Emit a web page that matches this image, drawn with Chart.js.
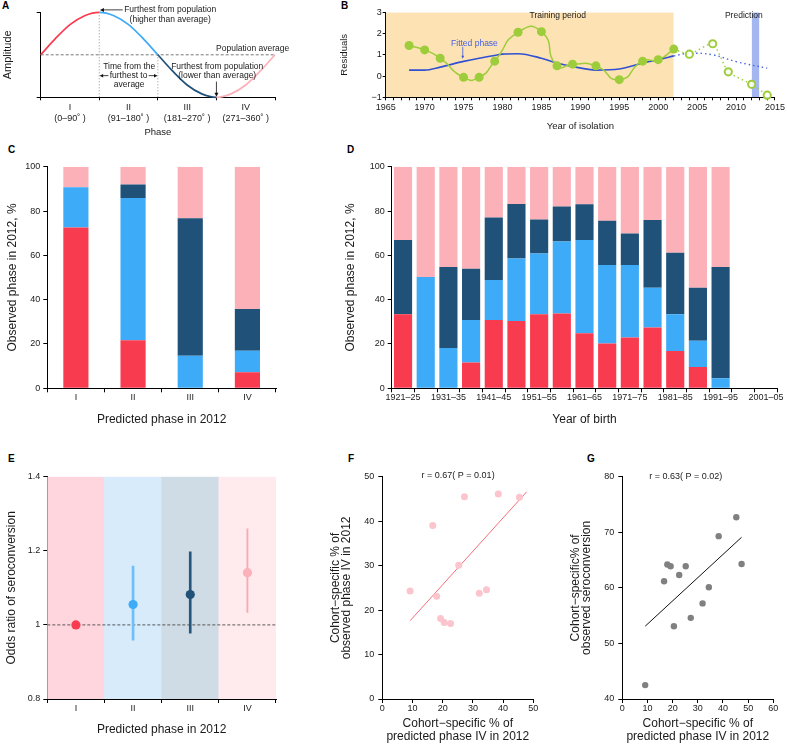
<!DOCTYPE html>
<html><head><meta charset="utf-8">
<script src="https://cdn.jsdelivr.net/npm/chart.js@4.4.0/dist/chart.umd.min.js"></script>
<style>
body{margin:0;background:#fff;width:787px;height:744px;position:relative;overflow:hidden;font-family:'Liberation Sans',Arial,Helvetica,sans-serif}
.p{position:absolute}
.lbl{position:absolute;font-weight:bold;font-size:10px;line-height:10px;color:#000}
</style></head><body>
<div class="lbl" style="left:2px;top:1px">A</div>
<div class="lbl" style="left:341px;top:1px">B</div>
<div class="lbl" style="left:8px;top:145px">C</div>
<div class="lbl" style="left:347px;top:145px">D</div>
<div class="lbl" style="left:8px;top:454px">E</div>
<div class="lbl" style="left:348px;top:454px">F</div>
<div class="lbl" style="left:587px;top:454px">G</div>
<script>
// ---------------- DATA ----------------
// Panel A (schematic phase curve)
const phaseDeg = [0,22.5,45,67.5,90,112.5,135,157.5,180,202.5,225,247.5,270,292.5,315,337.5,360];
const amplitude = [0,0.38,0.71,0.92,1,0.92,0.71,0.38,0,-0.38,-0.71,-0.92,-1,-0.92,-0.71,-0.38,0];
const phaseNames = ['I','II','III','IV'];
const phaseRanges = ['(0–90˚ )','(91–180˚ )','(181–270˚ )','(271–360˚ )'];

// Panel B
const isoYears = [1968,1970,1972,1975,1977,1979,1982,1985,1987,1989,1992,1995,1998,2000,2002];
const residuals = [1.44,1.23,0.84,-0.06,-0.06,0.70,2.06,2.09,0.48,0.56,0.48,-0.17,0.70,0.77,1.27];
const predYears = [2004,2007,2009,2012,2014];
const predResiduals = [1.03,1.52,0.20,-0.39,-0.90];
const fitYears = [1968,1970,1972,1975,1977,1979,1980,1982,1985,1987,1989,1992,1995,1998,2000,2002];
const fitPhase = [0.28,0.28,0.42,0.69,0.84,0.97,1.03,1.05,0.84,0.61,0.45,0.28,0.33,0.61,0.77,0.95];
const fitPredYears = [2002,2004,2007,2010,2014];
const fitPredPhase = [0.95,1.07,1.00,0.68,0.37];
const trainingPeriod = [1965,2002];
const predictionPeriod = [2012,2013];

// Panel C
const predictedPhases = ['I','II','III','IV'];
const cObsI   = [72.6,21.7,0,7.2];
const cObsII  = [18.1,64.2,14.7,9.8];
const cObsIII = [0,6.1,62.0,18.8];
const cObsIV  = [9.3,8.0,23.3,64.2];

// Panel D
const birthCohorts = ['1921–25','1926–30','1931–35','1936–40','1941–45','1946–50','1951–55','1956–60','1961–65','1966–70','1971–75','1976–80','1981–85','1986–90','1991–95','1996–2000','2001–05'];
const dObsI   = [33.4,0,0,11.6,30.8,30.4,33.4,33.8,24.8,20.2,22.9,27.4,16.8,9.6,0,0,0];
const dObsII  = [0,50.2,18.2,19.2,18.1,28.2,27.4,32.5,42.1,35.4,32.7,18.0,16.6,11.9,4.5,0,0];
const dObsIII = [33.5,0,36.5,23.2,28.2,24.6,15.4,15.7,16.1,20.0,14.3,30.5,27.8,23.9,50.2,0,0];
const dObsIV  = [33.1,49.8,45.3,46.0,22.9,16.8,23.8,18.0,17.0,24.4,30.1,24.1,38.8,54.6,45.3,0,0];

// Panel E
const oddsRatio = [1,1.055,1.082,1.141];
const oddsLow  = [null,0.959,0.978,1.034];
const oddsHigh = [null,1.159,1.197,1.259];

// Panel F
const fPredIV = [9.2,16.7,18.0,19.3,20.5,22.6,25.3,27.2,32.1,34.5,38.4,45.4];
const fObsIV  = [24.3,39.0,23.1,18.1,17.2,17.0,30.1,45.5,23.8,24.6,46.1,45.4];
const fFitX = [9.2,47.8];
const fFitY = [17.6,46.6];
const fStat = 'r = 0.67( P = 0.01)';

// Panel G
const gPredIV = [9.1,16.6,17.9,19.2,20.5,22.6,25.2,27.2,31.9,34.4,38.3,45.3,47.4];
const gSero   = [42.5,61.2,64.2,63.9,53.1,62.3,63.9,54.6,57.2,60.1,69.3,72.7,64.3];
const gFitX = [9.1,47.4];
const gFitY = [53.1,69.1];
const gStat = 'r = 0.63( P = 0.02)';

// ---------------- STYLE / HELPERS ----------------
const FONT = "'Liberation Sans', Arial, Helvetica, sans-serif";
Chart.defaults.font.family = FONT;
Chart.defaults.color = '#1a1a1a';
const RED='#f93b4f', LBLUE='#3eabf8', DARK='#1f5179', PINK='#fcb0b8';

function axis(tl, pad, size){
  return {
    border:{display:true,color:'#000',width:1},
    grid:{drawOnChartArea:false,drawTicks:true,tickLength:tl,tickColor:'#000',tickWidth:1,color:'#000'},
    ticks:{color:'#1a1a1a',font:{size:size||9},padding:pad,maxRotation:0,minRotation:0,autoSkip:false}
  };
}
function ttl(text,size,lh){return {display:true,text:text,color:'#1a1a1a',font:{size:size,lineHeight:lh||1.2},padding:{top:0,bottom:0}};}
const xy = (xs,ys)=>xs.map((x,i)=>({x:x,y:ys[i]}));

function makeChart(rect, plot, axW, axH, config){
  const [L,T,W,H] = rect;
  const div = document.createElement('div');
  div.className='p'; div.style.left=L+'px'; div.style.top=T+'px'; div.style.width=W+'px'; div.style.height=H+'px';
  const cv = document.createElement('canvas'); cv.width=W; cv.height=H; cv.style.width=W+'px'; cv.style.height=H+'px';
  div.appendChild(cv); document.body.appendChild(div);
  const o = config.options;
  o.responsive=false; o.animation=false; o.devicePixelRatio=1;
  o.layout={padding:{left:plot[0]-L-axW, top:plot[1]-T, right:L+W-plot[2], bottom:T+H-plot[3]-axH}};
  o.scales.x.afterFit = s=>{s.height=axH;};
  o.scales.y.afterFit = s=>{s.width=axW;};
  o.plugins = Object.assign({legend:{display:false},tooltip:{enabled:false},title:{display:false}}, o.plugins||{});
  return new Chart(cv, config);
}
function arrowLine(ctx,x1,y1,x2,y2,color,h){
  h=h||4;
  const a=Math.atan2(y2-y1,x2-x1);
  ctx.strokeStyle=color; ctx.fillStyle=color; ctx.lineWidth=0.8; ctx.setLineDash([]);
  ctx.beginPath(); ctx.moveTo(x1,y1); ctx.lineTo(x2-h*0.8*Math.cos(a),y2-h*0.8*Math.sin(a)); ctx.stroke();
  ctx.beginPath(); ctx.moveTo(x2,y2);
  ctx.lineTo(x2-h*Math.cos(a)+h*0.5*Math.sin(a), y2-h*Math.sin(a)-h*0.5*Math.cos(a));
  ctx.lineTo(x2-h*Math.cos(a)-h*0.5*Math.sin(a), y2-h*Math.sin(a)+h*0.5*Math.cos(a));
  ctx.closePath(); ctx.fill();
}
function overlay(id, fn){return {id:id, afterDatasetsDraw(chart){const c=chart.ctx; c.save(); fn(c, v=>chart.scales.x.getPixelForValue(v), v=>chart.scales.y.getPixelForValue(v), chart); c.restore();}};}

// ---------------- PANEL A ----------------
(function(){
  const ax = axis(3,1,9); ax.type='linear'; ax.min=0; ax.max=360;
  ax.afterBuildTicks = s=>{ s.ticks=[0,45,90,135,180,225,270,315,360].map(v=>({value:v})); };
  ax.ticks.callback = v => (v%90===45) ? [phaseNames[(v-45)/90], phaseRanges[(v-45)/90]] : '';
  ax.ticks.font = {size:9, lineHeight:1.3};
  ax.grid.tickColor = c => (c.tick && c.tick.value%90===0) ? '#000' : 'rgba(0,0,0,0)';
  ax.title = ttl('Phase',9.5);
  const ay = axis(4,1,9); ay.min=-1; ay.max=1;
  ay.afterBuildTicks = s=>{ s.ticks=[{value:-1},{value:1}]; };
  ay.ticks.callback = ()=>'';
  ay.title = ttl('Amplitude',11);
  const segColor = c => { const x=c.p0.parsed.x; return x<90?RED:x<180?LBLUE:x<270?DARK:PINK; };
  makeChart([0,0,290,140],[40.7,12.3,275,97.3],39.8,40.6,{
    type:'line',
    data:{datasets:[
      {data:xy(phaseDeg,amplitude),borderWidth:1.7,pointRadius:0,cubicInterpolationMode:'monotone',segment:{borderColor:segColor},borderColor:RED,order:1},
      {data:xy([0,360],[0,0]),borderColor:'#555',borderWidth:0.8,borderDash:[3,2],pointRadius:0,order:3},
      {data:xy([90,90],[-1,1]),borderColor:'#777',borderWidth:0.8,borderDash:[1,2],pointRadius:0,order:3},
      {data:xy([180,180],[-1,0]),borderColor:'#777',borderWidth:0.8,borderDash:[1,2],pointRadius:0,order:3}
    ]},
    options:{scales:{x:ax,y:ay},clip:false},
    plugins:[overlay('annA',(ctx,X,Y)=>{
      ctx.font='8.5px '+FONT; ctx.fillStyle='#1a1a1a'; ctx.textBaseline='middle'; ctx.textAlign='center';
      ctx.fillText('Furthest from population',X(199),Y(1.057));
      ctx.fillText('(higher than average)',X(199),Y(0.83));
      arrowLine(ctx,X(126),Y(1.057),X(91),Y(1.057),'#111',4);
      ctx.textAlign='left'; ctx.fillStyle='#1a1a1a';
      ctx.fillText('Population average',X(269.4),Y(0.136));
      ctx.textAlign='center';
      ctx.fillText('Time from the',X(136),Y(-0.287));
      ctx.fillText('furthest to',X(135),Y(-0.49));
      ctx.fillText('average',X(136),Y(-0.694));
      arrowLine(ctx,X(104),Y(-0.49),X(90.5),Y(-0.49),'#111',3.5);
      arrowLine(ctx,X(166),Y(-0.49),X(179.5),Y(-0.49),'#111',3.5);
      ctx.fillStyle='#1a1a1a';
      ctx.fillText('Furthest from population',X(271.2),Y(-0.287));
      ctx.fillText('(lower than average)',X(271.2),Y(-0.49));
      arrowLine(ctx,X(270),Y(-0.63),X(270),Y(-0.985),'#111',4);
    })]
  });
})();

// ---------------- PANEL B ----------------
(function(){
  const GREEN='#9dcd3a', BLUE='#2f51d2';
  const ax = axis(3,2,9); ax.type='linear'; ax.min=1965; ax.max=2015;
  ax.ticks.stepSize=1; ax.ticks.callback = v => (v%5===0) ? String(v) : '';
  ax.title = ttl('Year of isolation',9.5);
  const ay = axis(3,1,9); ay.min=-1; ay.max=3; ay.ticks.stepSize=1;
  ay.ticks.callback = v => v<0 ? '−'+Math.abs(v) : String(v);
  ay.title = ttl('Residuals',9.5);
  makeChart([290,0,497,140],[385.7,12.3,777.3,97.3],47.4,35.1,{
    type:'line',
    data:{datasets:[
      {data:xy(trainingPeriod,[3,3]),fill:{value:-1},backgroundColor:'#fde2b4',borderWidth:0,pointRadius:0,order:10},
      {data:xy(predictionPeriod,[3,3]),fill:{value:-1},backgroundColor:'#a3b6ef',borderWidth:0,pointRadius:0,order:9},
      {data:xy(fitYears,fitPhase),borderColor:BLUE,borderWidth:1.6,pointRadius:0,cubicInterpolationMode:'monotone',order:4},
      {data:xy(fitPredYears,fitPredPhase),borderColor:'#4a66e0',borderWidth:1.4,borderDash:[1.5,3],pointRadius:0,tension:0.4,order:4},
      {data:xy(isoYears,residuals),borderColor:GREEN,borderWidth:1.5,pointRadius:0,tension:0.62,order:3},
      {data:xy([isoYears[isoYears.length-1]].concat(predYears),[residuals[residuals.length-1]].concat(predResiduals)),borderColor:GREEN,borderWidth:1.4,borderDash:[1.5,3],pointRadius:0,tension:0.2,order:3},
      {data:xy(isoYears,residuals),showLine:false,pointRadius:4.5,pointBackgroundColor:GREEN,pointBorderWidth:0,order:1},
      {data:xy(predYears,predResiduals),showLine:false,pointRadius:3.6,pointBackgroundColor:'rgba(255,255,255,0.85)',pointBorderColor:GREEN,pointBorderWidth:2,order:1}
    ]},
    options:{scales:{x:ax,y:ay},clip:false},
    plugins:[overlay('annB',(ctx,X,Y)=>{
      ctx.font='8.5px '+FONT; ctx.textAlign='center'; ctx.textBaseline='middle'; ctx.fillStyle='#1a1a1a';
      ctx.fillText('Training period',X(1987.1),Y(2.83));
      ctx.fillText('Prediction',X(2011),Y(2.83));
      ctx.fillStyle='#4561e3';
      ctx.fillText('Fitted phase',X(1976.4),Y(1.52));
      arrowLine(ctx,X(1974.9),Y(1.37),X(1974.9),Y(0.82),'#3f5be0',3);
    })]
  });
})();

// ---------------- PANEL C ----------------
function stackedBars(rect, plot, axW, labels, sets, barPct, tickCb, xTitle){
  const ax = axis(4,0,9); ax.stacked=true; ax.title=ttl(xTitle,12);
  if(tickCb) ax.ticks.callback = tickCb;
  const ay = axis(4,3,9); ay.stacked=true; ay.min=0; ay.max=100; ay.ticks.stepSize=20;
  ay.title = ttl('Observed phase in 2012, %',12);
  const cols=[RED,LBLUE,DARK,PINK];
  return makeChart(rect, plot, axW, 38.9, {
    type:'bar',
    data:{labels:labels,datasets:sets.map((d,i)=>({data:d,backgroundColor:cols[i],borderWidth:0,barPercentage:barPct,categoryPercentage:1}))},
    options:{scales:{x:ax,y:ay}}
  });
}
stackedBars([0,140,300,290],[47.3,166.7,276,388.3],41.8,predictedPhases,[cObsI,cObsII,cObsIII,cObsIV],0.44,null,'Predicted phase in 2012');

// ---------------- PANEL D ----------------
stackedBars([300,140,487,290],[391.7,166.7,777.3,388.3],48.4,birthCohorts,[dObsI,dObsII,dObsIII,dObsIV],0.8,
  function(v,i){ return i%2===0 ? this.getLabelForValue(v) : ''; },'Year of birth');

// ---------------- PANEL E ----------------
(function(){
  const ax = axis(4,0,9); ax.title=ttl('Predicted phase in 2012',12);
  const ay = axis(4,3,9); ay.min=0.8; ay.max=1.4; ay.ticks.stepSize=0.2;
  ay.ticks.callback = v => { const r=Math.round(v*10)/10; return r===1 ? '1' : r.toFixed(1); };
  ay.title = ttl('Odds ratio of seroconversion',12);
  const iv = oddsLow.map((l,i)=>l===null?null:[l,oddsHigh[i]]);
  makeChart([0,430,300,314],[47.3,476.7,276,699],42.8,37.5,{
    type:'bar',
    data:{labels:predictedPhases,datasets:[
      {data:predictedPhases.map(()=>[0.8,1.4]),backgroundColor:['#ffd6dd','#d7ebfb','#d0dce5','#ffeaee'],borderWidth:0,barPercentage:1,categoryPercentage:1,grouped:false,order:5},
      {data:iv.map((d,i)=>i<3?d:null),backgroundColor:['rgba(0,0,0,0)','#6ec0f8','#26567d','rgba(0,0,0,0)'],borderWidth:0,barThickness:2,grouped:false,order:2},
      {data:iv.map((d,i)=>i===3?d:null),backgroundColor:'#f7aab3',borderWidth:0,barThickness:1.2,grouped:false,order:2},
      {type:'line',data:oddsRatio,showLine:false,pointRadius:4.6,pointBackgroundColor:[RED,LBLUE,DARK,PINK],pointBorderWidth:0,order:0}
    ]},
    options:{scales:{x:ax,y:ay}},
    plugins:[{id:'refLine',afterDatasetDraw(chart,args){
      if(args.index!==0) return;
      const c=chart.ctx, y=chart.scales.y.getPixelForValue(1), a=chart.chartArea;
      c.save(); c.strokeStyle='#333'; c.lineWidth=0.8; c.setLineDash([3,2]);
      c.beginPath(); c.moveTo(a.left,y); c.lineTo(a.right,y); c.stroke(); c.restore();
    }}]
  });
})();

// ---------------- PANELS F & G ----------------
function scatterPanel(rect, plot, xs, ys, fx, fy, ptColor, ptR, lineColor, xmax, ymin, ymax, yTitle, stat, statPos){
  const ax = axis(4,0,9); ax.type='linear'; ax.min=0; ax.max=xmax; ax.ticks.stepSize=10;
  ax.title = ttl(['Cohort−specific % of','predicted phase IV in 2012'],12,1.15);
  const ay = axis(4,4,9); ay.type='linear'; ay.min=ymin; ay.max=ymax; ay.ticks.stepSize=10;
  ay.title = ttl(yTitle,12,0.95);
  makeChart(rect, plot, 52.5, 44.9, {
    type:'scatter',
    data:{datasets:[
      {data:xy(fx,fy),showLine:true,borderColor:lineColor,borderWidth:1,pointRadius:0,order:2},
      {data:xy(xs,ys),pointRadius:ptR,pointBackgroundColor:ptColor,pointBorderWidth:0,order:1}
    ]},
    options:{scales:{x:ax,y:ay}},
    plugins:[overlay('stat'+rect[0],(ctx,X,Y)=>{
      ctx.font='9px '+FONT; ctx.fillStyle='#1a1a1a'; ctx.textAlign='center'; ctx.textBaseline='middle';
      ctx.fillText(stat,X(statPos[0]),Y(statPos[1]));
    })]
  });
}
scatterPanel([300,430,240,314],[382.3,476.7,533.3,699],fPredIV,fObsIV,fFitX,fFitY,'#fcc4cc',3.5,'#f26e7b',50,0,50,
  ['Cohort−specific % of','observed phase IV in 2012'],fStat,[25.1,50.2]);
scatterPanel([540,430,247,314],[622.3,476.7,773.3,699],gPredIV,gSero,gFitX,gFitY,'#808080',3.2,'#111',60,40,80,
  ['Cohort−specific% of','observed seroconversion'],gStat,[25.2,80]);
</script>
</body></html>
